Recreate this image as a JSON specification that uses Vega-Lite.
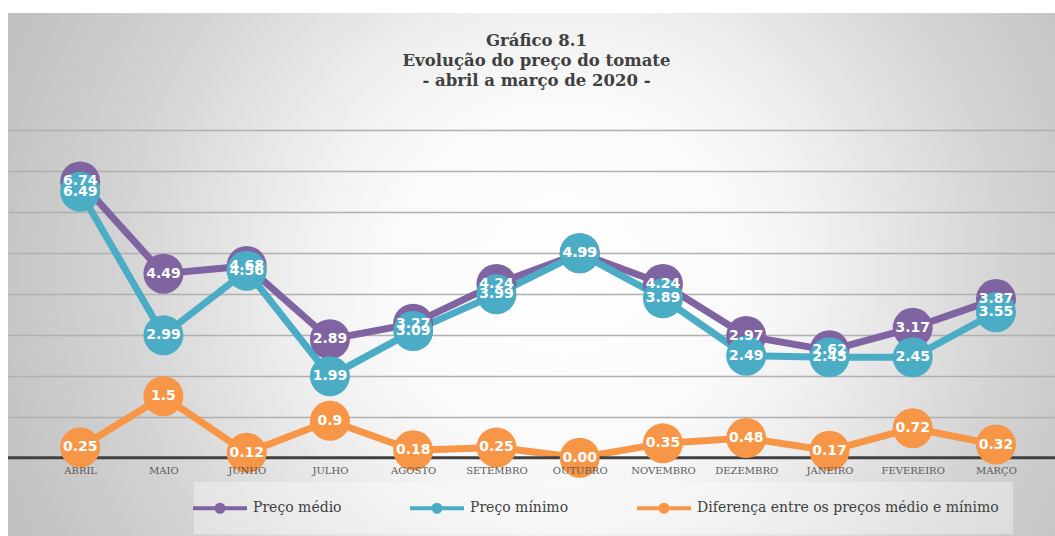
{
  "$schema": "https://vega.github.io/schema/vega-lite/v6.json",
  "width": 1047,
  "height": 523,
  "autosize": {"type": "none"},
  "padding": {"left": 8, "top": 13, "right": 0, "bottom": 0},
  "background": "#ffffff",
  "view": {
    "stroke": null,
    "fill": {
      "gradient": "radial",
      "x1": 0.53, "y1": 0.5, "r1": 0,
      "x2": 0.53, "y2": 0.5, "r2": 0.56,
      "stops": [
        {"offset": 0, "color": "#ffffff"},
        {"offset": 0.3, "color": "#fafafa"},
        {"offset": 0.45, "color": "#f0f0f0"},
        {"offset": 0.6, "color": "#e2e2e2"},
        {"offset": 0.75, "color": "#d4d4d4"},
        {"offset": 0.9, "color": "#c9c9c9"},
        {"offset": 1, "color": "#c2c2c2"}
      ]
    }
  },
  "title": {
    "text": ["Gráfico 8.1", "Evolução do preço do tomate", "- abril a março de 2020 -"],
    "font": "DejaVu Serif",
    "fontSize": 16.5,
    "fontWeight": "bold",
    "color": "#404040",
    "lineHeight": 20,
    "anchor": "middle",
    "frame": "group",
    "offset": -76,
    "dx": 5
  },
  "data": {
    "values": [
      {"mes": "ABRIL", "serie": "Preço médio", "valor": 6.74, "rotulo": "6.74"},
      {"mes": "MAIO", "serie": "Preço médio", "valor": 4.49, "rotulo": "4.49"},
      {"mes": "JUNHO", "serie": "Preço médio", "valor": 4.68, "rotulo": "4.68"},
      {"mes": "JULHO", "serie": "Preço médio", "valor": 2.89, "rotulo": "2.89"},
      {"mes": "AGOSTO", "serie": "Preço médio", "valor": 3.27, "rotulo": "3.27"},
      {"mes": "SETEMBRO", "serie": "Preço médio", "valor": 4.24, "rotulo": "4.24"},
      {"mes": "OUTUBRO", "serie": "Preço médio", "valor": 4.99, "rotulo": "4.99"},
      {"mes": "NOVEMBRO", "serie": "Preço médio", "valor": 4.24, "rotulo": "4.24"},
      {"mes": "DEZEMBRO", "serie": "Preço médio", "valor": 2.97, "rotulo": "2.97"},
      {"mes": "JANEIRO", "serie": "Preço médio", "valor": 2.62, "rotulo": "2.62"},
      {"mes": "FEVEREIRO", "serie": "Preço médio", "valor": 3.17, "rotulo": "3.17"},
      {"mes": "MARÇO", "serie": "Preço médio", "valor": 3.87, "rotulo": "3.87"},
      {"mes": "ABRIL", "serie": "Preço mínimo", "valor": 6.49, "rotulo": "6.49"},
      {"mes": "MAIO", "serie": "Preço mínimo", "valor": 2.99, "rotulo": "2.99"},
      {"mes": "JUNHO", "serie": "Preço mínimo", "valor": 4.56, "rotulo": "4.56"},
      {"mes": "JULHO", "serie": "Preço mínimo", "valor": 1.99, "rotulo": "1.99"},
      {"mes": "AGOSTO", "serie": "Preço mínimo", "valor": 3.09, "rotulo": "3.09"},
      {"mes": "SETEMBRO", "serie": "Preço mínimo", "valor": 3.99, "rotulo": "3.99"},
      {"mes": "OUTUBRO", "serie": "Preço mínimo", "valor": 4.99, "rotulo": "4.99"},
      {"mes": "NOVEMBRO", "serie": "Preço mínimo", "valor": 3.89, "rotulo": "3.89"},
      {"mes": "DEZEMBRO", "serie": "Preço mínimo", "valor": 2.49, "rotulo": "2.49"},
      {"mes": "JANEIRO", "serie": "Preço mínimo", "valor": 2.45, "rotulo": "2.45"},
      {"mes": "FEVEREIRO", "serie": "Preço mínimo", "valor": 2.45, "rotulo": "2.45"},
      {"mes": "MARÇO", "serie": "Preço mínimo", "valor": 3.55, "rotulo": "3.55"},
      {"mes": "ABRIL", "serie": "Diferença entre os preços médio e mínimo", "valor": 0.25, "rotulo": "0.25"},
      {"mes": "MAIO", "serie": "Diferença entre os preços médio e mínimo", "valor": 1.5, "rotulo": "1.5"},
      {"mes": "JUNHO", "serie": "Diferença entre os preços médio e mínimo", "valor": 0.12, "rotulo": "0.12"},
      {"mes": "JULHO", "serie": "Diferença entre os preços médio e mínimo", "valor": 0.9, "rotulo": "0.9"},
      {"mes": "AGOSTO", "serie": "Diferença entre os preços médio e mínimo", "valor": 0.18, "rotulo": "0.18"},
      {"mes": "SETEMBRO", "serie": "Diferença entre os preços médio e mínimo", "valor": 0.25, "rotulo": "0.25"},
      {"mes": "OUTUBRO", "serie": "Diferença entre os preços médio e mínimo", "valor": 0.0, "rotulo": "0.00"},
      {"mes": "NOVEMBRO", "serie": "Diferença entre os preços médio e mínimo", "valor": 0.35, "rotulo": "0.35"},
      {"mes": "DEZEMBRO", "serie": "Diferença entre os preços médio e mínimo", "valor": 0.48, "rotulo": "0.48"},
      {"mes": "JANEIRO", "serie": "Diferença entre os preços médio e mínimo", "valor": 0.17, "rotulo": "0.17"},
      {"mes": "FEVEREIRO", "serie": "Diferença entre os preços médio e mínimo", "valor": 0.72, "rotulo": "0.72"},
      {"mes": "MARÇO", "serie": "Diferença entre os preços médio e mínimo", "valor": 0.32, "rotulo": "0.32"}
    ]
  },
  "layer": [
    {
      "mark": {"type": "line", "strokeWidth": 7},
      "encoding": {
        "x": {
          "field": "mes", "type": "ordinal", "sort": null,
          "scale": {"type": "point", "padding": 0.788, "align": 0.55},
          "axis": {
            "title": null, "orient": "bottom", "offset": -78.3,
            "domain": false, "ticks": false, "grid": false,
            "labelAngle": 0, "labelFont": "DejaVu Serif", "labelFontSize": 10,
            "labelColor": "#595959", "labelPadding": 8, "zindex": 1
          }
        },
        "y": {
          "field": "valor", "type": "quantitative",
          "scale": {"domain": [-1.91, 10.85], "nice": false, "zero": false},
          "axis": {
            "title": null, "values": [1, 2, 3, 4, 5, 6, 7, 8],
            "grid": true, "gridColor": "#b0b0b0", "gridWidth": 1.5,
            "labels": false, "ticks": false, "domain": false, "zindex": 0
          }
        },
        "color": {
          "field": "serie", "type": "nominal",
          "scale": {
            "domain": ["Preço médio", "Preço mínimo", "Diferença entre os preços médio e mínimo"],
            "range": ["#8064A2", "#4BACC6", "#F79646"]
          },
          "legend": {
            "orient": "none", "legendX": 186, "legendY": 469,
            "direction": "horizontal", "columns": 3, "columnPadding": 60,
            "title": null, "padding": 14, "fillColor": "rgba(255,255,255,0.35)",
            "labelFont": "DejaVu Serif", "labelFontSize": 14, "labelColor": "#404040",
            "labelLimit": 500, "labelOffset": 21,
            "symbolType": "M-2.7,0H2.7M-0.35,0a0.35,0.35 0 1,0 0.7,0a0.35,0.35 0 1,0 -0.7,0",
            "symbolSize": 400, "symbolStrokeWidth": 4,
            "encode": {"symbols": {"update": {"fill": {"scale": "color", "field": "value"}, "opacity": {"value": 1}}}}
          }
        }
      }
    },
    {
      "data": {"values": [{}]},
      "mark": {"type": "rule", "color": "#404040", "strokeWidth": 3},
      "encoding": {"y": {"datum": 0}}
    },
    {
      "mark": {"type": "circle", "size": 1600, "opacity": 1},
      "encoding": {
        "x": {"field": "mes", "type": "ordinal", "sort": null},
        "y": {"field": "valor", "type": "quantitative"},
        "color": {"field": "serie", "type": "nominal"}
      }
    },
    {
      "mark": {"type": "text", "color": "#ffffff", "font": "DejaVu Sans", "fontWeight": "bold", "fontSize": 14, "align": "center", "baseline": "middle"},
      "encoding": {
        "x": {"field": "mes", "type": "ordinal", "sort": null},
        "y": {"field": "valor", "type": "quantitative"},
        "text": {"field": "rotulo"}
      }
    }
  ]
}
